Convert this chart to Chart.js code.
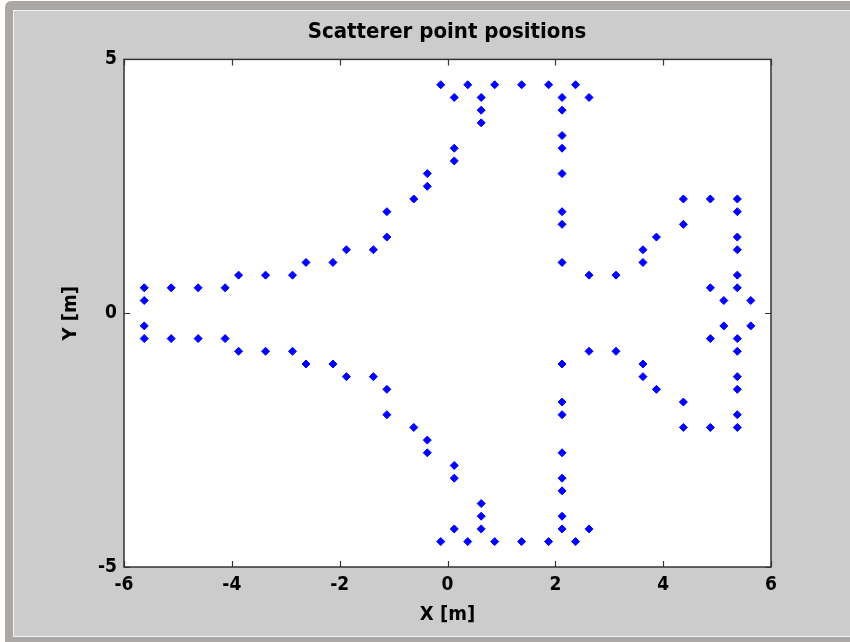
<!DOCTYPE html>
<html>
<head>
<meta charset="utf-8">
<script src="https://cdn.jsdelivr.net/npm/chart.js@4.4.1/dist/chart.umd.min.js"></script>
<style>
  body { margin: 0; background: #ffffff; overflow: hidden; }
  #frame {
    position: absolute; left: 5px; top: 1px; width: 845px; height: 641px;
    background: #aaa7a4; border-top-left-radius: 6px;
  }
  #panel {
    position: absolute; left: 13px; top: 10px; width: 837px; height: 625px;
    background: #cccccc; border-top: 1px solid #f0f0f0; border-left: 1px solid #f0f0f0;
    border-bottom: 1px solid #f0f0f0;
  }
  #wrap { position: absolute; left: 0; top: 0; width: 850px; height: 642px; }
</style>
</head>
<body>
<div id="frame"></div>
<div id="panel"></div>
<div id="wrap"><canvas id="chart" width="850" height="642"></canvas></div>

<script>
// scatterer positions, upper half (y > 0)
const upperX = [
  -5.625, -5.625, -5.125, -4.625, -4.125, -3.875, -3.375, -2.875, -2.625, -2.125,
  -1.875, -1.375, -1.125, -1.125, -0.625, -0.375, -0.375, 0.125, 0.125,
  -0.125, 0.125, 0.375, 0.625, 0.625, 0.625, 0.875, 1.375, 1.875, 2.125, 2.375, 2.625,
  2.125, 2.125, 2.125, 2.125, 2.125, 2.125, 2.125,
  2.625, 3.125, 3.625, 3.625, 3.875, 4.375, 4.375, 4.875, 5.375, 5.375,
  5.375, 5.375, 5.375, 5.375, 4.875, 5.125, 5.625
];
const upperY = [
  0.5, 0.25, 0.5, 0.5, 0.5, 0.75, 0.75, 0.75, 1.0, 1.0,
  1.25, 1.25, 1.5, 2.0, 2.25, 2.5, 2.75, 3.0, 3.25,
  4.5, 4.25, 4.5, 4.25, 4.0, 3.75, 4.5, 4.5, 4.5, 4.25, 4.5, 4.25,
  4.0, 3.5, 3.25, 2.75, 2.0, 1.75, 1.0,
  0.75, 0.75, 1.0, 1.25, 1.5, 1.75, 2.25, 2.25, 2.25, 2.0,
  1.5, 1.25, 0.75, 0.5, 0.5, 0.25, 0.25
];
// lower half (y < 0)
const lowerX = [
  -5.625, -5.625, -5.125, -4.625, -4.125, -3.875, -3.375, -2.875, -2.625, -2.125,
  -1.875, -1.375, -1.125, -1.125, -0.625, -0.375, -0.375, 0.125, 0.125,
  -0.125, 0.125, 0.375, 0.625, 0.625, 0.625, 0.875, 1.375, 1.875, 2.125, 2.375, 2.625,
  2.125, 2.125, 2.125, 2.125, 2.125, 2.125, 2.125,
  2.625, 3.125, 3.625, 3.625, 3.875, 4.375, 4.375, 4.875, 5.375, 5.375,
  5.375, 5.375, 5.375, 5.375, 4.875, 5.125, 5.625
];
const lowerY = [
  -0.5, -0.25, -0.5, -0.5, -0.5, -0.75, -0.75, -0.75, -1.0, -1.0,
  -1.25, -1.25, -1.5, -2.0, -2.25, -2.5, -2.75, -3.0, -3.25,
  -4.5, -4.25, -4.5, -4.25, -4.0, -3.75, -4.5, -4.5, -4.5, -4.25, -4.5, -4.25,
  -4.0, -3.5, -3.25, -2.75, -2.0, -1.75, -1.0,
  -0.75, -0.75, -1.0, -1.25, -1.5, -1.75, -2.25, -2.25, -2.25, -2.0,
  -1.5, -1.25, -0.75, -0.5, -0.5, -0.25, -0.25
];
const xTicks = [-6, -4, -2, 0, 2, 4, 6];
const yTicks = [-5, 0, 5];

const pts = [];
upperX.forEach((x, i) => pts.push({ x: x, y: upperY[i] }));
lowerX.forEach((x, i) => pts.push({ x: x, y: lowerY[i] }));

const fontFam = "'Liberation Sans Narrow', 'Arial Narrow', 'DejaVu Sans Condensed', 'Liberation Sans', sans-serif";

// white axes box, frame and inward ticks (matlab style)
const axesBox = {
  id: 'axesBox',
  beforeDatasetsDraw(chart) {
    const a = chart.chartArea, c = chart.ctx;
    c.save();
    c.fillStyle = '#ffffff';
    c.fillRect(a.left, a.top, a.right - a.left, a.bottom - a.top);
    c.restore();
  },
  afterDatasetsDraw(chart) {
    const a = chart.chartArea, c = chart.ctx;
    const sx = chart.scales.x, sy = chart.scales.y;
    c.save();
    c.strokeStyle = '#333333';
    c.lineWidth = 1.5;
    c.strokeRect(a.left, a.top, a.right - a.left, a.bottom - a.top);
    c.lineWidth = 1.2;
    c.beginPath();
    xTicks.forEach(v => {
      const px = Math.round(sx.getPixelForValue(v)) + 0.5;
      c.moveTo(px, a.bottom); c.lineTo(px, a.bottom - 6);
      c.moveTo(px, a.top); c.lineTo(px, a.top + 6);
    });
    yTicks.forEach(v => {
      const py = Math.round(sy.getPixelForValue(v)) + 0.5;
      c.moveTo(a.left, py); c.lineTo(a.left + 6, py);
      c.moveTo(a.right, py); c.lineTo(a.right - 6, py);
    });
    c.stroke();
    c.restore();
  }
};

new Chart(document.getElementById('chart'), {
  type: 'scatter',
  data: {
    datasets: [{
      data: pts,
      pointStyle: 'rectRot',
      pointRadius: 4,
      backgroundColor: '#0000ff',
      borderColor: '#0000ff',
      borderWidth: 1
    }]
  },
  options: {
    responsive: false,
    animation: false,
    layout: { padding: { left: 44, top: 0, right: 0, bottom: 0 } },
    plugins: {
      legend: { display: false },
      tooltip: { enabled: false },
      title: {
        display: true,
        text: 'Scatterer point positions',
        color: '#000000',
        font: { family: fontFam, size: 22, weight: 'bold' },
        padding: { top: 19, bottom: 14 }
      }
    },
    scales: {
      x: {
        type: 'linear', min: -6, max: 6,
        afterBuildTicks: s => { s.ticks = xTicks.map(v => ({ value: v })); },
        afterFit: s => { s.height = 75; },
        grid: { display: false, drawTicks: false },
        border: { display: false },
        ticks: {
          color: '#000000', padding: 7, maxRotation: 0,
          font: { family: fontFam, size: 19, weight: 'bold' }
        },
        title: {
          display: true, text: 'X [m]', color: '#000000',
          font: { family: fontFam, size: 20, weight: 'bold' },
          padding: { top: 0, bottom: 15 }
        }
      },
      y: {
        type: 'linear', min: -5, max: 5, position: 'left',
        afterBuildTicks: s => { s.ticks = yTicks.map(v => ({ value: v })); },
        afterFit: s => { s.width = 80; },
        grid: { display: false, drawTicks: false },
        border: { display: false },
        ticks: {
          color: '#000000', padding: 7,
          font: { family: fontFam, size: 19, weight: 'bold' }
        },
        title: {
          display: true, text: 'Y [m]', color: '#000000',
          font: { family: fontFam, size: 20, weight: 'bold' },
          padding: { top: 15, bottom: 0 }
        }
      },
      // empty right axis, only keeps the margin on the right side
      yRight: {
        type: 'linear', min: -5, max: 5, position: 'right',
        afterFit: s => { s.width = 79; },
        grid: { display: false, drawTicks: false },
        border: { display: false },
        ticks: { display: false }
      }
    }
  },
  plugins: [axesBox]
});
</script>
</body>
</html>
